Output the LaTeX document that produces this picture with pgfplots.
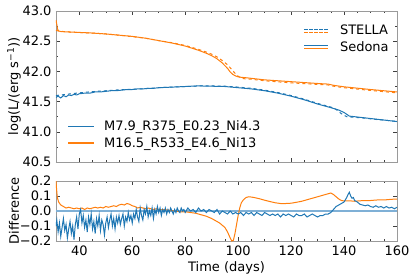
\documentclass[border=0pt]{standalone}
\usepackage{pgfplots}
\pgfplotsset{compat=1.18}
\usepackage{fontspec}
\setmainfont{DejaVu Sans}
\definecolor{c0}{HTML}{1F77B4}
\definecolor{c1}{HTML}{FF7F0E}
\definecolor{zl}{HTML}{7FB0D6}
\definecolor{spine}{HTML}{9A9A9A}
\pgfplotsset{
  myax/.style={
    scale only axis, width=341pt,
    xmin=31.2, xmax=160,
    xtick={40,60,...,160}, minor x tick num=3,
    tick align=inside, xtick pos=both, ytick pos=both,
    axis line style={spine, line width=0.8pt},
    major tick length=4pt, minor tick length=2pt,
    every tick/.style={black!75, line width=0.5pt},
    /pgf/number format/assume math mode=true,
    every axis y label/.style={at={(axis description cs:-0.123,0.5)}, rotate=90, anchor=center},
    legend cell align=left,
    legend style={draw=none, fill=none, row sep=1pt, inner sep=1pt},
  },
  stellaleg/.style={/pgfplots/legend image code/.code={
    \path[draw=none, fill=none] (0pt,0pt) -- (34pt,0pt);
    \draw[c0, line width=1.1pt, dash pattern=on 3.5pt off 1.5pt] (0pt,1.5pt)--(24pt,1.5pt);
    \draw[c1, line width=1.1pt, dash pattern=on 3.5pt off 1.5pt] (0pt,-1.5pt)--(24pt,-1.5pt);}},
  sedonaleg/.style={/pgfplots/legend image code/.code={
    \path[draw=none, fill=none] (0pt,0pt) -- (34pt,0pt);
    \draw[c0, line width=1.1pt] (0pt,1.5pt)--(24pt,1.5pt);
    \draw[c1, line width=1.1pt] (0pt,-1.5pt)--(24pt,-1.5pt);}},
  bleg/.style={/pgfplots/legend image code/.code={\path[draw=none, fill=none] (0pt,0pt) -- (34pt,0pt); \draw[c0, line width=1.3pt] (0pt,0pt)--(26pt,0pt);}},
  oleg/.style={/pgfplots/legend image code/.code={\path[draw=none, fill=none] (0pt,0pt) -- (34pt,0pt); \draw[c1, line width=1.3pt] (0pt,0pt)--(26pt,0pt);}},
}
\pgfplotstableread{
t v
31.2 41.57
32 41.59
33 41.56
34 41.60
35 41.58
36 41.61
37 41.60
38 41.62
39 41.61
40 41.63
42 41.64
44 41.64
46 41.66
48 41.66
50 41.67
52 41.68
54 41.68
56 41.69
58 41.70
60 41.70
62 41.71
64 41.71
66 41.72
68 41.72
70 41.73
75 41.74
80 41.75
85 41.76
90 41.755
95 41.75
100 41.73
105 41.71
110 41.68
115 41.64
120 41.59
125 41.53
130 41.46
135 41.40
138 41.36
140 41.32
141 41.29
142 41.26
144 41.25
148 41.23
152 41.21
156 41.19
160 41.17
}\blueSed
\pgfplotstableread{
t v
31.2 41.60
35 41.62
40 41.645
45 41.665
50 41.68
55 41.695
60 41.705
65 41.715
70 41.73
75 41.74
80 41.75
85 41.76
90 41.76
95 41.755
100 41.74
105 41.72
110 41.69
115 41.65
120 41.60
125 41.54
130 41.47
135 41.41
137 41.37
139 41.30
141 41.25
144 41.24
148 41.225
152 41.205
156 41.19
160 41.17
}\blueSte
\pgfplotstableread{
t v
31.2 42.85
31.5 42.78
31.8 42.70
32.2 42.67
33 42.66
35 42.655
40 42.645
45 42.635
50 42.62
55 42.60
60 42.58
65 42.55
70 42.51
75 42.47
80 42.42
85 42.35
88 42.30
90 42.26
92 42.21
94 42.14
96 42.05
97 41.99
98 41.95
99 41.925
100 41.91
101 41.903
103 41.895
110 41.86
120 41.83
130 41.80
134 41.79
136 41.77
140 41.745
150 41.70
160 41.66
}\orSed
\pgfplotstableread{
t v
31.2 42.68
32 42.67
35 42.655
40 42.645
45 42.635
50 42.62
55 42.60
60 42.575
65 42.55
70 42.51
75 42.475
80 42.43
85 42.365
88 42.32
90 42.285
92 42.24
94 42.18
96 42.11
97 42.06
98 42.01
99 41.96
100 41.92
101 41.895
102 41.88
105 41.87
110 41.845
120 41.81
130 41.785
134 41.775
136 41.755
140 41.73
150 41.685
160 41.645
}\orSte
\pgfplotstableread{
t v
31.2 -0.10
31.5 -0.06
32 -0.14
32.5 -0.08
33 -0.17
33.5 -0.11
34 -0.05
34.5 -0.13
35 -0.09
35.5 -0.18
36 -0.12
36.5 -0.07
37 -0.15
37.5 -0.10
38 -0.19
38.5 -0.09
39 -0.04
39.5 -0.12
40 -0.02
40.5 0.01
41 -0.08
41.5 -0.03
42 -0.11
42.5 -0.06
43 -0.14
43.5 -0.04
44 -0.09
44.5 -0.02
45 -0.12
45.5 -0.07
46 -0.15
46.5 -0.05
47 -0.10
47.5 -0.03
48 -0.13
48.5 -0.06
49 -0.09
49.5 -0.16
50 -0.08
50.5 -0.04
51 -0.11
51.5 -0.06
52 -0.02
52.5 -0.10
53 -0.05
53.5 -0.12
54 -0.04
54.5 -0.08
55 -0.03
55.5 -0.09
56 -0.05
56.5 -0.02
57 -0.10
57.5 -0.04
58 -0.07
58.5 -0.01
59 -0.06
59.5 -0.03
60 -0.08
60.5 -0.02
61 -0.05
61.5 0.01
62 -0.04
62.5 -0.07
63 0.02
63.5 -0.03
64 -0.06
64.5 0.01
65 -0.02
65.5 0.03
66 -0.04
66.5 0.00
67 -0.03
67.5 0.02
68 -0.05
68.5 0.01
69 -0.02
69.5 0.03
70 -0.01
70.5 0.02
71 -0.03
71.5 0.01
72 -0.01
72.5 0.02
73 -0.02
73.5 0.01
74 -0.01
74.5 0.02
75 0.00
75.5 -0.02
76 0.01
76.5 -0.01
77 0.02
77.5 0.00
78 -0.01
78.5 0.02
79 0.00
79.5 0.01
80 -0.01
81 0.02
82 0.00
83 0.01
84 -0.01
85 0.02
86 0.00
87 0.01
88 -0.01
89 0.01
90 0.00
91 -0.01
92 0.01
93 -0.02
94 0.00
95 -0.01
96 -0.02
97 0.00
98 -0.02
99 -0.01
100 -0.02
101 -0.01
102 -0.03
103 -0.01
104 -0.02
105 -0.01
106 -0.03
107 -0.01
108 -0.02
109 -0.03
110 -0.01
111 -0.02
112 -0.03
113 -0.02
114 -0.03
115 -0.02
116 -0.04
117 -0.02
118 -0.03
119 -0.02
120 -0.03
121 -0.04
122 -0.02
123 -0.03
124 -0.03
125 -0.02
126 -0.04
127 -0.03
128 -0.02
129 -0.03
130 -0.04
131 -0.03
132 -0.03
133 -0.02
134 -0.02
135 -0.01
136 0.01
137 0.03
138 0.04
139 0.05
140 0.06
141 0.09
141.5 0.11
142 0.125
142.5 0.10
143 0.085
143.5 0.09
144 0.07
145 0.06
146 0.045
147 0.04
148 0.035
149 0.04
150 0.03
151 0.025
152 0.035
153 0.025
154 0.03
155 0.02
156 0.03
157 0.02
158 0.025
159 0.015
160 0.025
}\blueDiff
\pgfplotstableread{
t v
31.2 0.20
31.4 0.15
31.7 0.09
32.2 0.06
33 0.04
34 0.03
35 0.02
36 0.025
37 0.02
38 0.015
39 0.02
40 0.015
41 0.02
42 0.01
43 0.02
44 0.015
45 0.02
46 0.025
47 0.02
48 0.025
49 0.02
50 0.03
51 0.025
52 0.03
53 0.035
54 0.03
55 0.04
56 0.045
57 0.04
58 0.05
59 0.045
60 0.035
61 0.03
62 0.02
63 0.025
64 0.02
65 0.015
66 0.02
67 0.015
68 0.01
69 0.015
70 0.01
72 0.01
74 0.005
76 0.0
78 -0.005
80 -0.005
82 -0.01
84 -0.015
86 -0.025
88 -0.035
90 -0.05
92 -0.07
93 -0.08
94 -0.095
95 -0.11
96 -0.14
97 -0.18
97.6 -0.20
98.2 -0.195
98.8 -0.15
99.4 -0.09
100 -0.03
100.6 0.02
101.2 0.055
102 0.075
103 0.09
104 0.095
105 0.093
106 0.09
108 0.082
110 0.072
112 0.063
114 0.055
116 0.05
118 0.05
120 0.052
122 0.058
124 0.065
126 0.075
128 0.085
130 0.095
132 0.105
134 0.115
135 0.12
136 0.11
137 0.095
138 0.08
139 0.07
140 0.067
142 0.068
144 0.065
146 0.068
148 0.07
150 0.07
152 0.073
154 0.075
156 0.075
158 0.078
160 0.08
}\orDiff
\begin{document}
\fontsize{13}{15}\selectfont
\begin{tikzpicture}
\begin{axis}[myax, name=top, at={(0,0)}, anchor=north west, height=151pt,
  ymin=40.5, ymax=43.0, ytick={40.5,41.0,...,43.0}, minor y tick num=1,
  yticklabel style={/pgf/number format/.cd, fixed, fixed zerofill, precision=1},
  xticklabels={},
  ylabel={log(L/(erg s\textsuperscript{−1}))},
  legend style={at={(axis description cs:0.985,0.93)}, anchor=north east},
]
\addplot[c1, line width=1pt, dashed, forget plot] table[x=t,y=v] {\orSte};
\addplot[c0, line width=1pt, dashed, forget plot] table[x=t,y=v] {\blueSte};
\addplot[c1, line width=1pt, forget plot] table[x=t,y=v] {\orSed};
\addplot[c0, line width=1pt, forget plot] table[x=t,y=v] {\blueSed};
\addlegendimage{stellaleg}
\addlegendentry{STELLA}
\addlegendimage{sedonaleg}
\addlegendentry{Sedona}
\end{axis}
\begin{axis}[scale only axis, width=341pt, height=151pt, at={(0,0)}, anchor=north west,
  hide axis, xmin=0, xmax=1, ymin=0, ymax=1,
  legend cell align=left,
  legend style={draw=none, fill=none, inner sep=1pt, row sep=1pt, at={(axis description cs:0.03,0.065)}, anchor=south west},
]
\addlegendimage{bleg}
\addlegendentry{M7.9\_R375\_E0.23\_Ni4.3}
\addlegendimage{oleg}
\addlegendentry{M16.5\_R533\_E4.6\_Ni13}
\end{axis}
\begin{axis}[myax, name=bot, at={(0,-170pt)}, anchor=north west, height=60pt,
  ymin=-0.2, ymax=0.2, ytick={-0.2,-0.1,0,0.1,0.2},
  yticklabels={−0.2,−0.1,0.0,0.1,0.2},
  xlabel={Time (days)}, ylabel={Difference},
  xlabel style={yshift=3pt},
]
\addplot[zl, line width=1.2pt] coordinates {(31.2,0) (160,0)};
\addplot[c1, line width=1pt] table[x=t,y=v] {\orDiff};
\addplot[c0, line width=1pt] table[x=t,y=v] {\blueDiff};
\end{axis}
\pgfresetboundingbox
\path (-56pt,11pt) rectangle (359pt,-266pt);
\end{tikzpicture}
\end{document}
